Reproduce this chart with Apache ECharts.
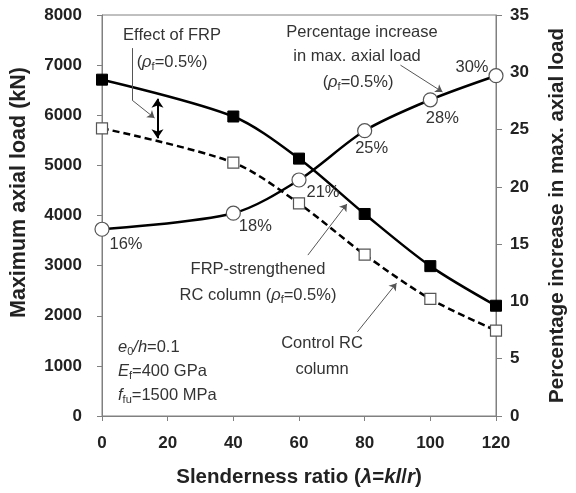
<!DOCTYPE html>
<html><head><meta charset="utf-8">
<script src="https://cdn.jsdelivr.net/npm/echarts@6/dist/echarts.min.js"></script>
<style>html,body{margin:0;padding:0;background:#fff}#c{width:576px;height:493px}</style>
</head><body><div id="c"></div>
<script>
const slenderness = [0, 20, 40, 60, 80, 100, 120];
const ratioPoints = [0, 40, 60, 80, 100, 120];
const frpLoad = [6710, 5975, 5135, 4030, 2990, 2200];
const controlLoad = [5740, 5055, 4240, 3220, 2335, 1705];
const pctIncrease = [16.3, 17.7, 20.6, 24.9, 27.6, 29.7];
const pctLabels = ['16%', '18%', '21%', '25%', '28%', '30%'];
const leftTicks = [0, 1000, 2000, 3000, 4000, 5000, 6000, 7000, 8000];
const rightTicks = [0, 5, 10, 15, 20, 25, 30, 35];

const pctLabelOffsets = [[24,15],[22,13],[24,12],[7,18],[12,19],[-24,-8]];
const FONT = 'Liberation Sans';
const txtColor = '#333';
const FS = 16.5;

const chart = echarts.init(document.getElementById('c'));
const pair = (xs, ys) => xs.map((x, i) => [x, ys[i]]);

const sub = {fontSize: 11, fontFamily: FONT, color: txtColor, verticalAlign: 'bottom', padding: [9,0,0,0]};
const it = {fontSize: FS, fontFamily: FONT, color: txtColor, fontStyle: 'italic'};
const nrm = {fontSize: FS, fontFamily: FONT, color: txtColor};

function txt(x, y, text, align) {
  return {type: 'text', x: x, y: y, style: {text: text, align: align || 'center', verticalAlign: 'middle',
    fontSize: FS, fontFamily: FONT, fill: txtColor, rich: {it: it, sub: sub, n: nrm}}};
}
const tickLabel = {fontSize: 17, fontWeight: 'bold', fontFamily: FONT, color: '#222', formatter: v => String(v)};

const option = {
  animation: false,
  grid: {left: 101, right: 70, top: 15, bottom: 77, show: true, borderColor: '#808080', borderWidth: 1},
  xAxis: {
    type: 'value', min: 0, max: 120, interval: 20,
    name: '{b|Slenderness ratio (}{bi|λ}{b|=}{bi|kl}{b|/}{bi|r}{b|)}',
    nameLocation: 'middle', nameGap: 51,
    nameTextStyle: {rich: {
      b: {fontSize: 20.5, fontWeight: 'bold', fontFamily: FONT, color: '#222'},
      bi: {fontSize: 20.5, fontWeight: 'bold', fontStyle: 'italic', fontFamily: FONT, color: '#222'}}},
    axisLine: {lineStyle: {color: '#808080', width: 1}},
    axisTick: {show: true, length: 5, lineStyle: {color: '#808080'}},
    axisLabel: Object.assign({margin: 19}, tickLabel),
    splitLine: {show: false}
  },
  yAxis: [{
    type: 'value', min: 0, max: 8000, interval: 1000, position: 'left',
    name: 'Maximum axial load (kN)', nameLocation: 'middle', nameGap: 72,
    nameTextStyle: {fontSize: 21.5, fontWeight: 'bold', fontFamily: FONT, color: '#222', padding: [0, 0, 0, 46]},
    axisLine: {show: true, lineStyle: {color: '#808080', width: 1}},
    axisTick: {show: true, length: 5, lineStyle: {color: '#808080'}},
    axisLabel: Object.assign({margin: 20}, tickLabel),
    splitLine: {show: false}
  }, {
    type: 'value', min: 0, max: 35, interval: 5, position: 'right',
    name: 'Percentage increase in max. axial load', nameLocation: 'middle', nameGap: 51, nameRotate: 90,
    nameTextStyle: {fontSize: 20.5, fontWeight: 'bold', fontFamily: FONT, color: '#222'},
    axisLine: {show: true, lineStyle: {color: '#808080', width: 1}},
    axisTick: {show: true, length: 6, lineStyle: {color: '#808080'}},
    axisLabel: Object.assign({margin: 14}, tickLabel),
    splitLine: {show: false}
  }],
  series: [{
    name: 'FRP-strengthened', type: 'line', yAxisIndex: 0, smooth: 0.3,
    data: pair(ratioPoints, frpLoad),
    symbol: 'rect', symbolSize: 11,
    lineStyle: {color: '#000', width: 2.5},
    itemStyle: {color: '#000', borderColor: '#000'},
    z: 3,
    markLine: {
      silent: true, animation: false, label: {show: false},
      lineStyle: {color: '#555', width: 1, type: 'solid'},
      symbol: ['none', 'none'],
      data: [
        [{coord: [9.2, 7340]}, {coord: [9.2, 6300]}],
        [{coord: [9.2, 6300], symbol: 'none'}, {coord: [16.0, 5945], symbol: 'arrow', symbolSize: 7}],
        [{coord: [16.9, 6330], symbol: 'arrow', symbolSize: 9, lineStyle: {color: '#000', width: 2}},
         {coord: [16.9, 5540], symbol: 'arrow', symbolSize: 9}],
        [{coord: [90.9, 7000]}, {coord: [103.7, 6465], symbol: 'arrow', symbolSize: 7}],
        [{coord: [62.7, 3210]}, {coord: [74.6, 4230], symbol: 'arrow', symbolSize: 7}],
        [{coord: [77.8, 1680]}, {coord: [89.7, 2650], symbol: 'arrow', symbolSize: 7}]
      ]
    }
  }, {
    name: 'Control', type: 'line', yAxisIndex: 0, smooth: 0.3,
    data: pair(ratioPoints, controlLoad),
    symbol: 'rect', symbolSize: 11,
    lineStyle: {color: '#000', width: 2.5, type: [7, 4]},
    itemStyle: {color: '#fff', borderColor: '#555', borderWidth: 1.2},
    z: 3
  }, {
    name: 'Percentage', type: 'line', yAxisIndex: 1, smooth: 0.3,
    data: pctIncrease.map((v, i) => ({
      value: [ratioPoints[i], v],
      label: {show: true, position: 'inside', offset: pctLabelOffsets[i], formatter: pctLabels[i]}
    })),
    symbol: 'circle', symbolSize: 14,
    lineStyle: {color: '#000', width: 2.5},
    itemStyle: {color: '#fff', borderColor: '#555', borderWidth: 1.2},
    label: {fontSize: FS, fontFamily: FONT, color: txtColor},
    z: 4
  }],
  graphic: [
    txt(172, 35, 'Effect of FRP'),
    txt(172, 62, '{n|(}{it|ρ}{sub|f}{n|=0.5%)}'),
    txt(362, 32, 'Percentage increase'),
    txt(357, 56, 'in max. axial load'),
    txt(358, 82, '{n|(}{it|ρ}{sub|f}{n|=0.5%)}'),
    txt(258, 269, 'FRP-strengthened'),
    txt(258, 295, '{n|RC column (}{it|ρ}{sub|f}{n|=0.5%)}'),
    txt(322, 343, 'Control RC'),
    txt(322, 369, 'column'),
    txt(118, 347, '{it|e}{sub|0}{it|/h}{n|=0.1}', 'left'),
    txt(118, 371, '{it|E}{sub|f}{n|=400 GPa}', 'left'),
    txt(118, 395, '{it|f}{sub|fu}{n|=1500 MPa}', 'left')
  ]
};
chart.setOption(option);
</script></body></html>
